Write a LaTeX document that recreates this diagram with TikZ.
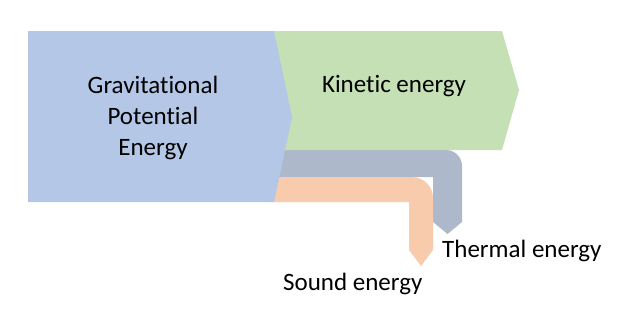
\documentclass[tikz,border=0pt]{standalone}
\usepackage{fontspec}
\setmainfont[Ligatures=NoCommon]{Carlito}
\definecolor{gpeblue}{HTML}{B4C7E7}
\definecolor{kegreen}{HTML}{C5E0B4}
\definecolor{thgray}{HTML}{ADB9CA}
\definecolor{sdorange}{HTML}{F8CBAD}
\tikzset{
  lbl/.style={inner sep=0pt, font=\fontsize{25}{31}\selectfont, text=black},
}
\begin{document}
\begin{tikzpicture}[x=1pt,y=-1pt]
\useasboundingbox (0,0) rectangle (622,317);
% thermal band
\fill[thgray] (270,150) -- (446,150) arc[start angle=-90, end angle=0, radius=16]
  -- (462,222) -- (447.5,234) -- (433,222) -- (433,177) -- (270,177) -- cycle;
% sound band
\fill[sdorange] (270,177) -- (412,177) arc[start angle=-90, end angle=0, radius=21]
  -- (433,250) -- (421,266) -- (409,250) -- (409,202) -- (270,202) -- cycle;
% kinetic arrow
\fill[kegreen] (270,31) -- (502,31) -- (519,90) -- (502,150) -- (270,150) -- cycle;
% gravitational arrow
\fill[gpeblue] (28,31) -- (274,31) -- (292,117) -- (274,202) -- (28,202) -- cycle;
\node[lbl, align=center] (gpe) at (153,118) {Gravitational\\Potential\\Energy};
\node[lbl, anchor=base] (ke) at (394,92) {Kinetic energy};
\node[lbl, anchor=base west] (th) at (442,257) {Thermal energy};
\node[lbl, anchor=base west] (sd) at (283,290) {Sound energy};
\end{tikzpicture}
\end{document}
